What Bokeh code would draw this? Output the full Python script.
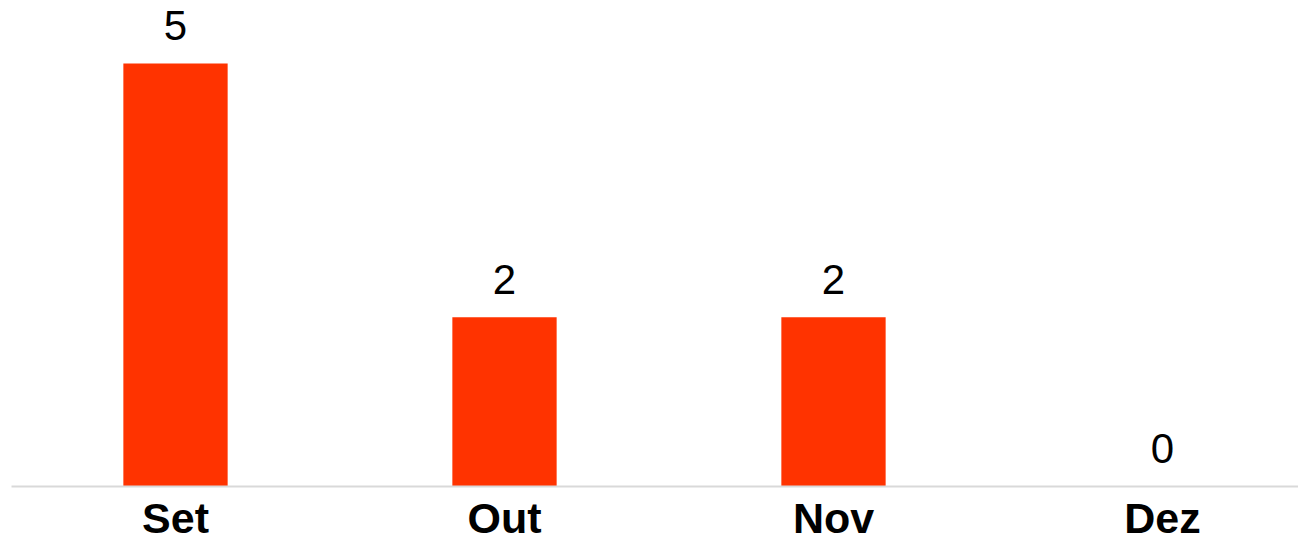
from bokeh.plotting import figure
from bokeh.models import Range1d, FixedTicker, ColumnDataSource
from bokeh.core.properties import value
from bokeh.embed import file_html
from bokeh.resources import INLINE

months = ["Set", "Out", "Nov", "Dez"]
counts = [5, 2, 2, 0]

positions = list(range(len(months)))
src = ColumnDataSource(dict(x=positions, top=counts, label=[str(c) for c in counts]))

p = figure(width=1298, height=544, output_backend="svg", toolbar_location=None,
           x_range=Range1d(-0.4985, 3.4134), y_range=Range1d(0, 5.745),
           y_axis_location=None, min_border_left=11, min_border_right=0,
           min_border_top=0, min_border_bottom=0)
p.outline_line_color = None
p.background_fill_color = "white"
p.border_fill_color = "white"
p.xgrid.visible = False
p.ygrid.visible = False

p.vbar(x="x", top="top", width=0.317, bottom=0, source=src,
       fill_color="#FF3300", line_color=None)

p.text(x="x", y="top", text="label", source=src, y_offset=-38,
       text_align="center", text_baseline="alphabetic", text_color="black",
       text_font=value("Liberation Sans"), text_font_size="42px")

ax = p.xaxis[0]
ax.ticker = FixedTicker(ticks=positions)
ax.major_label_overrides = {i: m for i, m in zip(positions, months)}
ax.axis_line_color = "#d9d9d9"
ax.axis_line_width = 2
ax.major_tick_line_color = None
ax.minor_tick_line_color = None
ax.major_tick_out = 0
ax.major_tick_in = 0
ax.major_label_standoff = 7
ax.major_label_text_font = "Liberation Sans"
ax.major_label_text_font_style = "bold"
ax.major_label_text_font_size = "43px"
ax.major_label_text_color = "black"

open("out.html", "w").write(file_html(p, INLINE))
